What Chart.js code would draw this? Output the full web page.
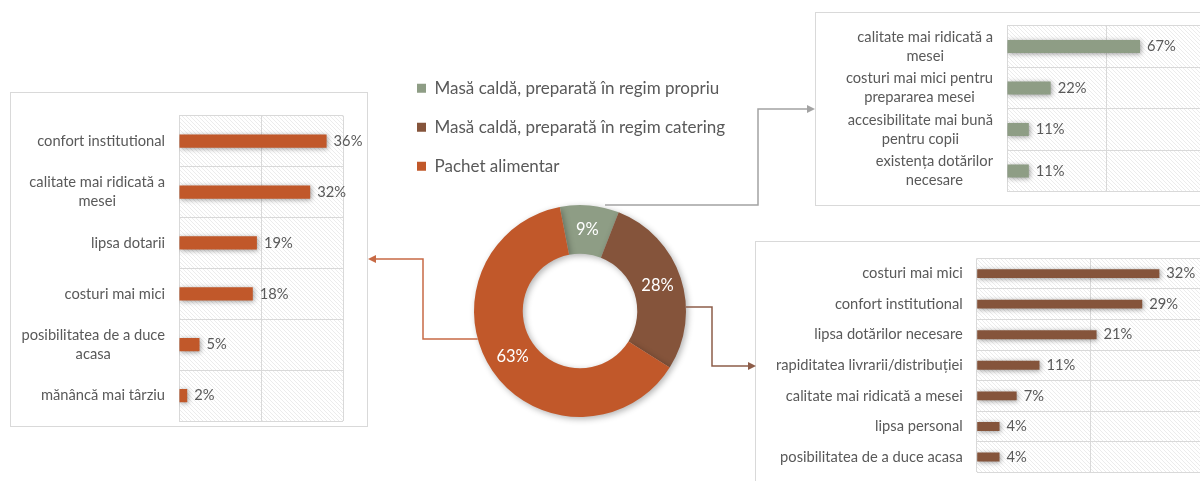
<!DOCTYPE html>
<html>
<head>
<meta charset="utf-8">
<script src="https://cdn.jsdelivr.net/npm/chart.js@4.4.0/dist/chart.umd.min.js"></script>
<style>
  html, body { margin: 0; padding: 0; background: #fff; }
  #page { position: relative; width: 1200px; height: 481px; overflow: hidden; }
  .box { position: absolute; box-sizing: border-box; border: 1px solid #d9d9d9; background: #fff; }
  canvas { position: absolute; }
</style>
</head>
<body>
<div id="page">
  <div class="box" style="left:10px;top:92px;width:358px;height:335px"></div>
  <div class="box" style="left:815px;top:12px;width:420px;height:194px"></div>
  <div class="box" style="left:755px;top:241px;width:480px;height:260px"></div>
  <canvas id="left" width="358" height="335" style="left:10px;top:92px"></canvas>
  <canvas id="topRight" width="400" height="194" style="left:815px;top:12px"></canvas>
  <canvas id="bottomRight" width="460" height="250" style="left:755px;top:241px"></canvas>
  <canvas id="donut" width="1200" height="481" style="left:0;top:0"></canvas>
</div>
<script>
// doughnut
const pieLabels = [
  "Masă caldă, preparată în regim propriu",
  "Masă caldă, preparată în regim catering",
  "Pachet alimentar",
];
const pieValues = [9, 28, 63];
const pieColors = ["#8e9d85", "#85543b", "#c1582a"];

// reasons - Pachet alimentar (left box)
const pachetLabels = [
  "confort institutional",
  ["calitate mai ridicată a", "mesei"],
  "lipsa dotarii",
  "costuri mai mici",
  ["posibilitatea de a duce", "acasa"],
  "mănâncă mai târziu",
];
const pachetValues = [36, 32, 19, 18, 5, 2];

// reasons - regim propriu (top right box)
const propriuLabels = [
  ["calitate mai ridicată a", "mesei"],
  ["costuri mai mici pentru", "prepararea mesei"],
  ["accesibilitate mai bună", "pentru copii"],
  ["existența dotărilor", "necesare"],
];
const propriuValues = [67, 22, 11, 11];

// reasons - regim catering (bottom right box)
const cateringLabels = [
  "costuri mai mici",
  "confort institutional",
  "lipsa dotărilor necesare",
  "rapiditatea livrarii/distribuției",
  "calitate mai ridicată a mesei",
  "lipsa personal",
  "posibilitatea de a duce acasa",
];
const cateringValues = [32, 29, 21, 11, 7, 4, 4];

const FONT = "Lato";
const TEXT = "#595959";

function hatchPattern(ctx) {
  const c = document.createElement("canvas");
  c.width = 4;
  c.height = 4;
  const g = c.getContext("2d");
  g.fillStyle = "#ffffff";
  g.fillRect(0, 0, 4, 4);
  g.strokeStyle = "#ececec";
  g.lineWidth = 1;
  g.beginPath();
  g.moveTo(-1, -1); g.lineTo(5, 5);
  g.moveTo(-1, 3); g.lineTo(1, 5);
  g.moveTo(3, -1); g.lineTo(5, 1);
  g.stroke();
  return ctx.createPattern(c, "repeat");
}

// hatch, shadow, category labels and value labels for the bar boxes
const barDecor = {
  id: "barDecor",
  beforeDraw(chart) {
    const { ctx, chartArea: a } = chart;
    ctx.save();
    ctx.fillStyle = hatchPattern(ctx);
    ctx.fillRect(a.left, a.top, a.right - a.left, a.bottom - a.top);
    ctx.restore();
  },
  beforeDatasetsDraw(chart) {
    const ctx = chart.ctx;
    ctx.save();
    ctx.shadowColor = "rgba(0,0,0,0.4)";
    ctx.shadowBlur = 5;
    ctx.shadowOffsetX = 1;
    ctx.shadowOffsetY = 1;
  },
  afterDatasetsDraw(chart) {
    chart.ctx.restore();
  },
  afterDraw(chart) {
    const { ctx, chartArea: a } = chart;
    const yScale = chart.scales.y;
    const meta = chart.getDatasetMeta(0);
    const values = chart.data.datasets[0].data;
    ctx.save();
    ctx.font = "14.7px " + FONT;
    ctx.fillStyle = TEXT;
    ctx.textBaseline = "middle";
    chart.data.labels.forEach((lab, i) => {
      const lines = Array.isArray(lab) ? lab : [lab];
      const cy = yScale.getPixelForValue(i);
      const w = Math.max(...lines.map((l) => ctx.measureText(l).width));
      const cx = a.left - 14 - w / 2;
      ctx.textAlign = "center";
      lines.forEach((l, k) => {
        ctx.fillText(l, cx, cy + (k - (lines.length - 1) / 2) * 19);
      });
      const bar = meta.data[i];
      ctx.textAlign = "left";
      ctx.fillText(values[i] + "%", bar.x + 7, bar.y);
    });
    ctx.restore();
  },
};

function makeBarChart(id, labels, values, color, axisMax, barFrac, padding) {
  const ctx = document.getElementById(id).getContext("2d");
  return new Chart(ctx, {
    type: "bar",
    data: {
      labels: labels,
      datasets: [
        {
          data: values,
          backgroundColor: color,
          borderWidth: 0,
          categoryPercentage: 1,
          barPercentage: barFrac,
        },
      ],
    },
    options: {
      indexAxis: "y",
      responsive: false,
      animation: false,
      layout: { padding: padding },
      plugins: { legend: { display: false }, tooltip: { enabled: false } },
      scales: {
        x: {
          min: 0,
          max: axisMax,
          ticks: { display: false, stepSize: axisMax / 2 },
          grid: { color: "#d9d9d9", drawTicks: false },
          border: { display: false },
        },
        y: {
          ticks: { display: false },
          grid: { color: "#d9d9d9", drawTicks: false, offset: true },
          border: { display: false },
        },
      },
    },
    plugins: [barDecor],
  });
}

makeBarChart("left", pachetLabels, pachetValues, pieColors[2], 40, 0.26,
  { left: 169, top: 23.7, right: 25, bottom: 6 });
makeBarChart("topRight", propriuLabels, propriuValues, pieColors[0], 100, 0.31,
  { left: 192, top: 13.7, right: 9.5, bottom: 14.3 });
makeBarChart("bottomRight", cateringLabels, cateringValues, pieColors[1], 40, 0.29,
  { left: 221.7, top: 17.3, right: 10, bottom: 18.7 });

function arrowLine(ctx, color, pts) {
  const n = pts.length;
  const [tx, ty] = pts[n - 1];
  const [px, py] = pts[n - 2];
  const len = Math.hypot(tx - px, ty - py);
  const ux = (tx - px) / len, uy = (ty - py) / len;
  const head = 8;
  ctx.save();
  ctx.strokeStyle = color;
  ctx.fillStyle = color;
  ctx.lineWidth = 1.5;
  ctx.beginPath();
  ctx.moveTo(pts[0][0], pts[0][1]);
  for (let i = 1; i < n - 1; i++) ctx.lineTo(pts[i][0], pts[i][1]);
  ctx.lineTo(tx - ux * head, ty - uy * head);
  ctx.stroke();
  ctx.beginPath();
  ctx.moveTo(tx, ty);
  ctx.lineTo(tx - ux * head - uy * 4, ty - uy * head + ux * 4);
  ctx.lineTo(tx - ux * head + uy * 4, ty - uy * head - ux * 4);
  ctx.closePath();
  ctx.fill();
  ctx.restore();
}

const donutDecor = {
  id: "donutDecor",
  beforeDatasetsDraw(chart) {
    const ctx = chart.ctx;
    ctx.save();
    ctx.shadowColor = "rgba(0,0,0,0.3)";
    ctx.shadowBlur = 6;
    ctx.shadowOffsetX = 2;
    ctx.shadowOffsetY = 2;
  },
  afterDatasetsDraw(chart) {
    const ctx = chart.ctx;
    ctx.restore();
    const meta = chart.getDatasetMeta(0);
    const values = chart.data.datasets[0].data;
    ctx.save();
    ctx.font = "16.5px " + FONT;
    ctx.fillStyle = "#ffffff";
    ctx.textAlign = "center";
    ctx.textBaseline = "middle";
    meta.data.forEach((arc, i) => {
      const p = arc.tooltipPosition();
      ctx.fillText(values[i] + "%", p.x, p.y);
    });
    ctx.restore();

    // connectors from the ring to the boxes
    const arc = meta.data[0];
    const cx = arc.x, cy = arc.y, r = arc.outerRadius;
    arrowLine(ctx, "#a3a3a3", [[cx + 25, cy - r], [758, cy - r], [758, 109], [815, 109]]);
    const yo = 339;
    arrowLine(ctx, "#c76a45", [[cx - Math.sqrt(r * r - (yo - cy) ** 2), yo], [423, yo], [423, 259], [368, 259]]);
    const yb = 307;
    arrowLine(ctx, "#8d5d49", [[cx + Math.sqrt(r * r - (yb - cy) ** 2), yb], [712, yb], [712, 366], [756, 366]]);
  },
};

new Chart(document.getElementById("donut").getContext("2d"), {
  type: "doughnut",
  data: {
    labels: pieLabels,
    datasets: [
      {
        data: pieValues,
        backgroundColor: pieColors,
        borderWidth: 0,
        radius: 106,
        cutout: "54%",
        rotation: -11,
      },
    ],
  },
  options: {
    responsive: false,
    animation: false,
    layout: { padding: { left: 395, right: 435, top: 57.8, bottom: 43.8 } },
    plugins: {
      tooltip: { enabled: false },
      legend: {
        position: "top",
        align: "start",
        labels: {
          boxWidth: 9,
          boxHeight: 9,
          padding: 22,
          color: TEXT,
          font: { family: FONT, size: 17 },
        },
      },
    },
  },
  plugins: [donutDecor],
});
</script>
</body>
</html>
